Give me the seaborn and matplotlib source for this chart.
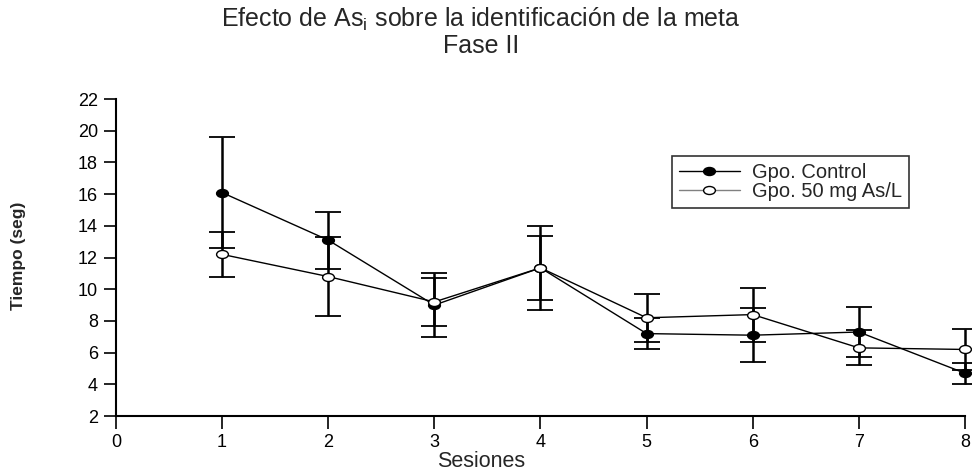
import matplotlib
matplotlib.use("Agg")
import matplotlib.pyplot as plt
import seaborn as sns
import pandas as pd
from matplotlib.lines import Line2D
from matplotlib.path import Path
from matplotlib.transforms import Affine2D

sessions = [1, 2, 3, 4, 5, 6, 7, 8]
control_mean = [16.1, 13.1, 9.0, 11.35, 7.2, 7.1, 7.3, 4.7]
control_err = [3.5, 1.8, 2.0, 2.65, 1.0, 1.7, 1.6, 0.65]
as_mean = [12.2, 10.8, 9.2, 11.35, 8.2, 8.4, 6.3, 6.2]
as_err = [1.4, 2.5, 1.5, 2.0, 1.5, 1.7, 1.1, 1.3]
group_names = ["Gpo. Control", "Gpo. 50 mg As/L"]
x_ticks = [0, 1, 2, 3, 4, 5, 6, 7, 8]
y_ticks = [2, 4, 6, 8, 10, 12, 14, 16, 18, 20, 22]

sns.set_theme(style="ticks")
plt.rcParams['font.family'] = ['Liberation Sans', 'DejaVu Sans']

df = pd.DataFrame({
    "Sesiones": sessions * 2,
    "Tiempo": control_mean + as_mean,
    "err": control_err + as_err,
    "Grupo": [group_names[0]] * len(sessions) + [group_names[1]] * len(sessions),
})

# slightly flattened circle, like the reference
ellipse = Path.unit_circle().transformed(Affine2D().scale(1.0, 0.68))
msize = 8.5

fig = plt.figure(figsize=(9.72, 4.73), dpi=100)
ax = fig.add_axes([0.1193, 0.1205, 0.8735, 0.670])

for g in group_names:
    sub = df[df["Grupo"] == g]
    ax.errorbar(sub["Sesiones"], sub["Tiempo"], yerr=sub["err"], fmt="none",
                ecolor="black", elinewidth=1.8, capsize=9.5, capthick=1.3,
                clip_on=False, zorder=2)

sns.lineplot(data=df, x="Sesiones", y="Tiempo", hue="Grupo",
             palette={group_names[0]: "black", group_names[1]: "black"},
             linewidth=1.0, ax=ax, legend=False, zorder=3,
             marker=ellipse, markersize=msize)

lines = ax.get_lines()
for ln in lines[-2:]:
    ln.set_clip_on(False)
    ln.set_markeredgecolor("black")
    ln.set_markeredgewidth(1.0)
lines[-2].set_markerfacecolor("black")
lines[-1].set_markerfacecolor("white")

ax.set_xlim(0, 8)
ax.set_ylim(2, 22)
ax.set_xticks(x_ticks)
ax.set_yticks(y_ticks)
ax.tick_params(axis="both", direction="out", length=9, width=1.2, labelsize=13,
               colors="black", pad=4)
for s in ["top", "right"]:
    ax.spines[s].set_visible(False)
for s in ["left", "bottom"]:
    ax.spines[s].set_linewidth(1.5)
    ax.spines[s].set_color("black")

ax.set_xlabel("")
ax.set_ylabel("")
fig.text(0.4947, 0.024, "Sesiones", ha="center", va="center", fontsize=15.5)
fig.text(0.019, 0.46, "Tiempo (seg)", rotation=90, fontsize=12.5, fontweight="bold",
         ha="center", va="center")

fig.text(0.495, 0.958, "Efecto de As$_\\mathregular{i}$ sobre la identificación de la meta",
         ha="center", va="center", fontsize=18)
fig.text(0.495, 0.902, "Fase II", ha="center", va="center", fontsize=18)

handles = [
    Line2D([0], [0], color="black", lw=1, marker=ellipse, markersize=msize,
           markerfacecolor="black", markeredgecolor="black"),
    Line2D([0], [0], color="gray", lw=1, marker=ellipse, markersize=msize,
           markerfacecolor="white", markeredgecolor="black"),
]
leg = ax.legend(handles, group_names, loc="upper left",
                bbox_to_anchor=(0.655, 0.82), frameon=True, fontsize=14.5,
                fancybox=False, edgecolor="black", handlelength=3.0,
                borderpad=0.35, labelspacing=0.0, handletextpad=0.6,
                borderaxespad=0)
leg.get_frame().set_linewidth(1.2)

fig.savefig("out.png", dpi=100, facecolor="white")
